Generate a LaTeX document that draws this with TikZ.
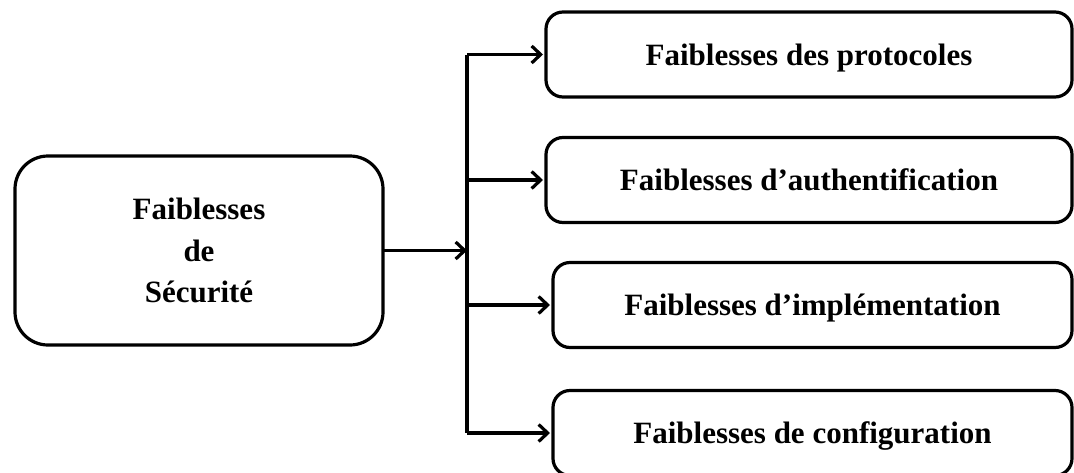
\documentclass[tikz,border=0pt]{standalone}
\usepackage{fontspec}
\setmainfont{Liberation Serif}
\usetikzlibrary{arrows.meta}
\begin{document}
\begin{tikzpicture}[x=1pt,y=1pt,
  every node/.style={inner sep=0pt, outer sep=0pt},
  leafbox/.style={draw, line width=3.2pt, rounded corners=17pt,
    minimum height=85pt, text height=21pt, text depth=0pt,
    font=\bfseries\fontsize{31}{36}\selectfont},
  rootbox/.style={draw, line width=3.2pt, rounded corners=33pt,
    minimum width=368pt, minimum height=189pt, align=center,
    font=\bfseries\fontsize{31}{41.5}\selectfont},
  link/.style={line width=3.2pt},
  arr/.style={link, -{Straight Barb[length=9pt,width=17pt]}}]

\useasboundingbox (0,0) rectangle (1074,-472);

% root node
\node[rootbox] (root) at (199,-250.5) {Faiblesses\\de\\Sécurité};

% the four categories
\node[leafbox, minimum width=526pt] (p1) at (809,-54.5) {Faiblesses des protocoles};
\node[leafbox, minimum width=526pt] (p2) at (809,-180) {Faiblesses d’authentification};
\node[leafbox, minimum width=519pt] (p3) at (812.5,-305) {Faiblesses d’implémentation};
\node[leafbox, minimum width=519pt] (p4) at (812.5,-433) {Faiblesses de configuration};

% distribution bus
\coordinate (bus) at (467,-250.5);
\draw[arr] (root.east) -- (bus);
\draw[link] (bus |- p1.west) -- (bus |- p4.west);
\foreach \n in {p1,p2,p3,p4}
  \draw[arr, shorten >=3pt] (bus |- \n.west) -- (\n.west);
\end{tikzpicture}
\end{document}
